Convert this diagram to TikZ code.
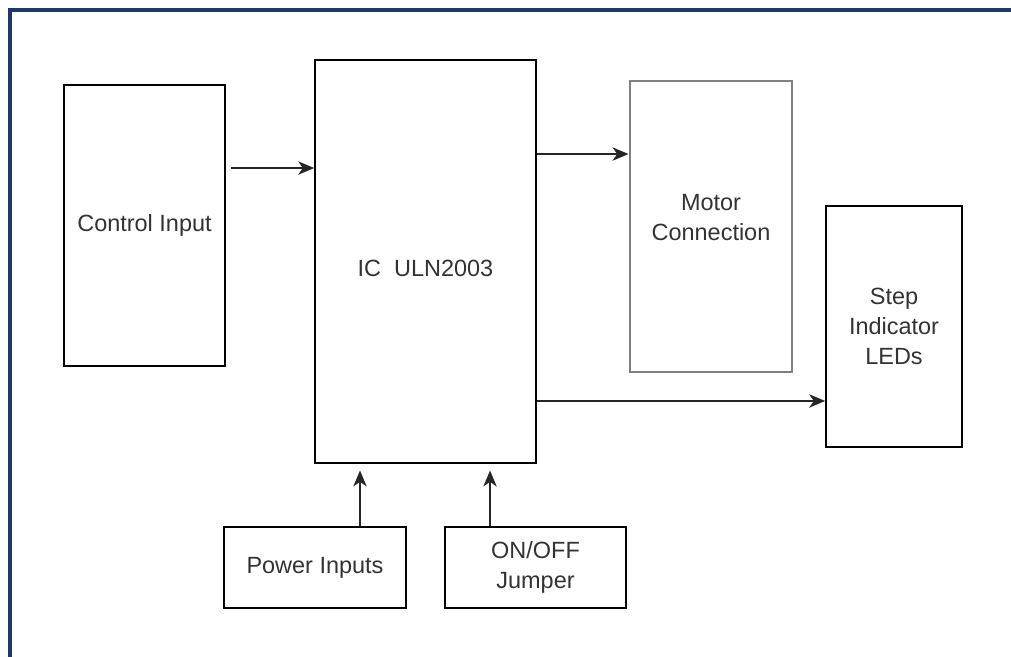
\documentclass[tikz,border=0pt]{standalone}
\usepackage{fontspec}
\setmainfont{Liberation Sans}
\usepackage{tikz}
\usetikzlibrary{shapes,arrows.meta,positioning}
\definecolor{framenavy}{HTML}{1F3864}

\begin{document}
\begin{tikzpicture}[
    x=0.75pt, y=-0.75pt,
    box/.style={rectangle, draw=black, line width=1.2pt, fill=white,
                text centered, align=center, inner sep=0pt,
                text=black!80, font=\fontsize{17.6}{22.5}\selectfont},
    arr/.style={-{Stealth[length=12pt, width=10pt, inset=3.5pt]}, line width=1.4pt, draw=black!85},
  ]
  \useasboundingbox (0,0) rectangle (1011,657);
  % outer frame
  \draw[framenavy, line width=2.4pt] (1030,10) -- (10,10) -- (10,680);

  \node[box, minimum width=120.75pt, minimum height=210.75pt] (ctrl) at (144.5,225.5) {Control Input};
  \node[box, minimum width=165.75pt, minimum height=302.25pt] (ic) at (425.5,261.5) {\rule{0pt}{23pt}IC\ \ ULN2003};
  \node[box, draw=black!50, line width=2.2pt, minimum width=121.5pt, minimum height=218.25pt] (motor) at (711,226.5) {Motor\\Connection\rule[-14pt]{0pt}{14pt}};
  \node[box, minimum width=102pt, minimum height=180.75pt] (leds) at (894,326.5) {Step\\Indicator\\LEDs};
  \node[box, minimum width=136.5pt, minimum height=60.75pt] (power) at (315,567.5) {Power Inputs};
  \node[box, minimum width=135.75pt, minimum height=60.75pt] (jumper) at (535.5,567.5) {ON/OFF\\Jumper};

  \coordinate (c1) at ([xshift=3.75pt, yshift=43.1pt]ctrl.east);
  \coordinate (c2) at ([yshift=80.6pt]ic.east);
  \coordinate (c3) at ([yshift=-104.6pt]ic.east);
  \coordinate (c4) at ([xshift=33.75pt]power.north);
  \coordinate (c5) at ([xshift=-34.1pt]jumper.north);

  \draw[arr] (c1) -- (c1 -| ic.west);
  \draw[arr] (c2) -- (c2 -| motor.west);
  \draw[arr] (c3) -- (c3 -| leds.west);
  \draw[arr, shorten >=5pt] (c4) -- (c4 |- ic.south);
  \draw[arr, shorten >=5pt] (c5) -- (c5 |- ic.south);
\end{tikzpicture}
\end{document}
